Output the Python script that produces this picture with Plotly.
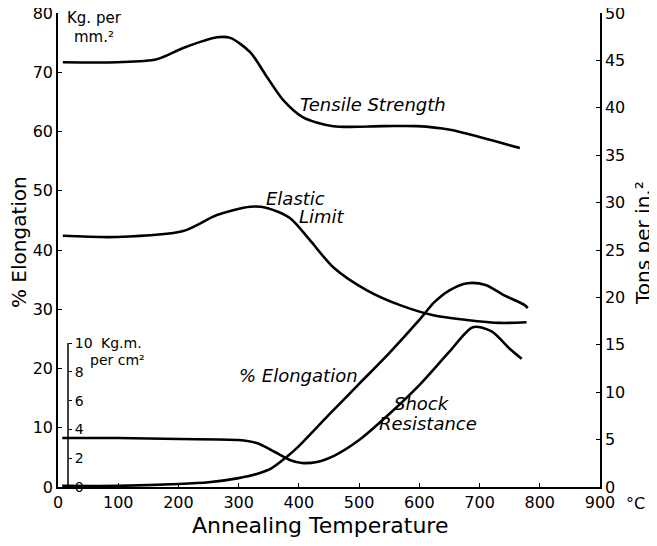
import plotly.graph_objects as go

# ---- data ----
temp_ts = [8, 98, 164, 208, 264, 286, 319, 347, 374, 407, 457, 540, 596, 651, 706, 767]
tensile = [71.7, 71.7, 72.2, 74.1, 75.9, 75.8, 73.4, 69.2, 65.3, 62.4, 60.9, 60.9, 60.9, 60.3, 58.9, 57.2]

temp_el = [8, 98, 208, 264, 319, 347, 385, 418, 457, 513, 568, 623, 679, 734, 778]
elastic = [42.4, 42.2, 43.2, 45.9, 47.3, 47.1, 45.4, 41.7, 37.1, 33.2, 30.7, 29.0, 28.2, 27.7, 27.8]

temp_elong = [7, 100, 200, 250, 300, 330, 355, 380, 400, 450, 500, 550, 600, 625, 650, 680, 710, 740, 775, 780]
elongation = [0.2, 0.2, 0.5, 0.8, 1.5, 2.2, 3.2, 5.1, 6.9, 12.2, 17.4, 22.6, 28.2, 31.2, 33.2, 34.4, 34.1, 32.4, 30.7, 30.2]

temp_shock = [7, 100, 200, 300, 330, 360, 385, 405, 430, 460, 500, 550, 600, 650, 689, 720, 750, 770]
shock = [3.4, 3.4, 3.33, 3.26, 3.05, 2.43, 1.88, 1.67, 1.74, 2.2, 3.26, 5.07, 7.08, 9.4, 11.1, 10.8, 9.6, 8.9]

x_ticks = [0, 100, 200, 300, 400, 500, 600, 700, 800, 900]
left_ticks = [0, 10, 20, 30, 40, 50, 60, 70, 80]
right_ticks = [0, 5, 10, 15, 20, 25, 30, 35, 40, 45, 50]
shock_ticks = [0, 2, 4, 6, 8, 10]

FONT = "DejaVu Sans"
LINE = dict(color="black", width=2.6, shape="spline", smoothing=0.8)

fig = go.Figure()
fig.add_trace(go.Scatter(x=temp_ts, y=tensile, mode="lines", line=LINE, yaxis="y", showlegend=False))
fig.add_trace(go.Scatter(x=temp_el, y=elastic, mode="lines", line=LINE, yaxis="y", showlegend=False))
fig.add_trace(go.Scatter(x=temp_elong, y=elongation, mode="lines", line=LINE, yaxis="y", showlegend=False))
fig.add_trace(go.Scatter(x=temp_shock, y=shock, mode="lines", line=LINE, yaxis="y3", showlegend=False))
# invisible trace to activate right axis
fig.add_trace(go.Scatter(x=[0], y=[0], mode="markers", marker=dict(opacity=0), yaxis="y2",
                         showlegend=False, hoverinfo="skip"))

axis_common = dict(showgrid=False, zeroline=False, showline=True, linecolor="black", linewidth=1.5,
                   ticks="inside", ticklen=4, tickcolor="black", automargin=False,
                   ticklabeloverflow="allow",
                   tickfont=dict(family=FONT, size=16, color="black"))

shock_top = 10 * 474 / 144.0

# page body has an 8px margin: plot area lands at window x 58..600, y 13..487
fig.update_layout(
    template="none",
    width=649, height=538,
    margin=dict(l=50, r=57, t=5, b=59, autoexpand=False),
    paper_bgcolor="white", plot_bgcolor="white",
    xaxis=dict(range=[0, 900], tickvals=x_ticks, **axis_common),
    yaxis=dict(range=[0, 80], tickvals=left_ticks, **axis_common),
    yaxis2=dict(range=[0, 50], tickvals=right_ticks, overlaying="y", side="right", anchor="x", **axis_common),
    yaxis3=dict(range=[0, shock_top], tickvals=shock_ticks, overlaying="y", side="right",
                anchor="free", position=10 / 542, showgrid=False, zeroline=False, showline=False,
                ticks="outside", ticklen=3, tickcolor="black", automargin=False,
                ticklabeloverflow="allow",
                tickfont=dict(family=FONT, size=14, color="black")),
)

# short inner axis line for shock resistance
fig.add_shape(type="line", xref="paper", x0=10 / 542, x1=10 / 542, yref="y3", y0=0, y1=10,
              line=dict(color="black", width=1.5))

W, H = 542.0, 474.0
def px(xp):
    return (xp - 58) / W
def py(yp):
    return (487 - yp) / H

def ann(text, x, y, size=16, italic=False, angle=0, xanchor="left"):
    fig.add_annotation(text=text, x=px(x), y=py(y), xref="paper", yref="paper", showarrow=False,
                       textangle=angle, xanchor=xanchor, yanchor="middle",
                       font=dict(family=FONT, size=size, color="black",
                                 style="italic" if italic else "normal"))

ann("Annealing Temperature", 190, 525, size=22)
ann("% Elongation", 19, 242, size=20, angle=-90, xanchor="center")
ann("Tons per in.²", 643, 243, size=20, angle=-90, xanchor="center")
ann("°C", 624, 503, size=16)
ann("Kg. per", 65, 18, size=15)
ann("mm.²", 72, 37, size=15)
ann("Kg.m.", 99, 343, size=14)
ann("per cm²", 88, 360, size=14)

ann("Tensile Strength", 298, 105, size=18, italic=True)
ann("Elastic", 264, 198, size=18, italic=True)
ann("Limit", 297, 217, size=18, italic=True)
ann("% Elongation", 237, 375, size=18, italic=True)
ann("Shock", 392, 403, size=18, italic=True)
ann("Resistance", 377, 423, size=18, italic=True)

fig.write_html("out.html")
